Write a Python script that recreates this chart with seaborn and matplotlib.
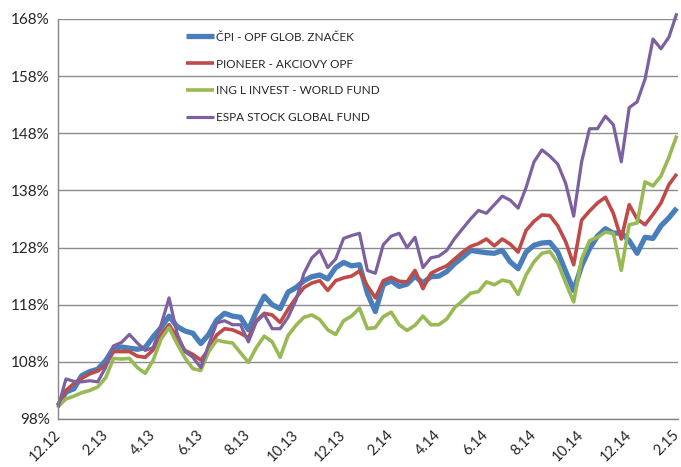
import numpy as np
import pandas as pd
import matplotlib
matplotlib.use("Agg")
import matplotlib.pyplot as plt
import seaborn as sns
from matplotlib.ticker import PercentFormatter

# x positions in months after the 12.12 tick (one value every 1/3 month)
months = np.arange(79) / 3.0

tick_months = list(range(0, 27, 2))
tick_labels = ["12.12", "2.13", "4.13", "6.13", "8.13", "10.13", "12.13",
               "2.14", "4.14", "6.14", "8.14", "10.14", "12.14", "2.15"]

cpi = [100.3, 102.7, 103.3, 105.6, 106.3, 106.7, 108.2, 110.4, 110.6, 110.4,
       110.2, 110.5, 112.4, 114.0, 116.0, 114.2, 113.4, 113.0, 111.2, 112.8,
       115.3, 116.5, 116.0, 115.8, 113.6, 116.8, 119.5, 118.0, 117.3, 120.2,
       121.0, 122.2, 122.9, 123.2, 122.5, 124.5, 125.4, 124.8, 125.0, 120.0,
       116.8, 121.5, 122.2, 121.2, 121.6, 123.0, 121.8, 122.9, 123.0, 123.8,
       125.2, 126.3, 127.5, 127.3, 127.1, 127.0, 127.5, 125.5, 124.3, 127.2,
       128.4, 128.8, 128.9, 127.2, 123.8, 120.5, 124.8, 127.8, 130.0, 131.3,
       130.5, 130.6, 129.2, 127.0, 129.8, 129.6, 131.8, 133.2, 134.9]

pioneer = [100.4, 103.0, 104.2, 105.1, 105.9, 106.4, 107.4, 109.8, 109.8, 109.8,
           109.0, 108.8, 110.1, 112.8, 114.5, 112.2, 110.0, 109.3, 108.3, 110.2,
           112.7, 113.8, 113.6, 113.0, 112.2, 115.2, 116.5, 116.2, 114.9, 117.2,
           119.2, 121.0, 121.8, 122.2, 120.5, 122.2, 122.7, 123.0, 123.9, 121.3,
           119.2, 122.2, 122.8, 122.1, 122.0, 124.0, 120.8, 123.5, 124.2, 124.8,
           126.0, 127.2, 128.2, 128.7, 129.5, 128.3, 129.5, 128.6, 127.2, 131.0,
           132.6, 133.7, 133.6, 131.8, 129.0, 125.0, 132.8, 134.4, 135.8, 136.8,
           134.0, 129.5, 135.5, 133.0, 132.0, 133.8, 135.8, 139.0, 140.9]

ing = [100.2, 101.5, 102.0, 102.6, 103.0, 103.6, 105.2, 108.6, 108.5, 108.6,
       107.0, 106.0, 108.3, 112.0, 114.0, 111.2, 108.7, 106.8, 106.5, 109.8,
       111.8, 111.5, 111.3, 109.6, 107.9, 110.5, 112.5, 111.5, 108.8, 112.6,
       114.4, 115.8, 116.2, 115.4, 113.6, 112.8, 115.2, 116.0, 117.4, 113.8,
       114.0, 115.9, 116.7, 114.5, 113.5, 114.4, 116.0, 114.5, 114.5, 115.5,
       117.5, 118.7, 120.0, 120.3, 122.0, 121.5, 122.3, 122.0, 119.8, 123.2,
       125.5, 127.0, 127.3, 125.3, 121.8, 118.5, 126.0, 129.2, 129.8, 130.7,
       130.5, 124.0, 132.0, 132.3, 139.5, 138.8, 140.5, 143.8, 147.6]

espa = [100.0, 105.0, 104.6, 104.5, 104.7, 104.5, 107.0, 110.8, 111.4, 112.8,
        111.3, 110.0, 110.5, 114.5, 119.2, 113.0, 109.8, 108.8, 107.0, 111.0,
        114.8, 115.2, 114.5, 114.5, 111.5, 115.0, 116.3, 113.8, 113.8, 115.8,
        118.8, 123.5, 126.2, 127.5, 124.5, 126.0, 129.6, 130.1, 130.5, 124.0,
        123.5, 128.5, 130.0, 130.5, 128.0, 129.8, 124.5, 126.2, 126.5, 127.5,
        129.6, 131.3, 133.0, 134.5, 134.0, 135.5, 137.0, 136.3, 134.9, 138.5,
        143.0, 145.1, 144.0, 142.6, 139.2, 133.5, 143.0, 148.8, 148.8, 151.0,
        149.5, 143.0, 152.5, 153.5, 157.5, 164.5, 162.8, 164.8, 169.0]

names = ["ČPI - OPF GLOB. ZNAČEK", "PIONEER - AKCIOVY OPF",
         "ING L INVEST - WORLD FUND", "ESPA STOCK GLOBAL FUND"]
colors = ["#4A7EBB", "#BE4B48", "#98B954", "#7D60A0"]
widths = [3.8, 2.6, 2.6, 2.3]

sns.set_style("white")
plt.rcParams["font.family"] = ["Lato", "DejaVu Sans"]

fig = plt.figure(figsize=(6.81, 4.67), dpi=100)
ax = fig.add_axes([58 / 681, 48 / 467, 620 / 681, 400 / 467])

for name, vals, c, w in zip(names, [cpi, pioneer, ing, espa], colors, widths):
    sns.lineplot(x=months, y=vals, ax=ax, color=c, linewidth=w, label=name,
                 clip_on=False, solid_capstyle="butt")

ax.set_xlim(0, 26.05)
ax.set_ylim(98, 168)
ax.set_yticks(range(98, 169, 10))
ax.yaxis.set_major_formatter(PercentFormatter(decimals=0))
ax.set_xticks(tick_months)
ax.set_xticklabels(tick_labels, rotation=45, ha="right", va="center",
                   rotation_mode="anchor")
ax.tick_params(axis="both", labelsize=11, length=4, width=1, color="#868686",
               direction="out", pad=3)
ax.tick_params(axis="x", labelsize=10.5, pad=6)
ax.tick_params(axis="y", pad=2)
ax.yaxis.grid(True, color="#8C8C8C", linewidth=1)
ax.set_axisbelow(True)
for s in ["top", "right"]:
    ax.spines[s].set_visible(False)
for s in ["left", "bottom"]:
    ax.spines[s].set_color("#868686")
    ax.spines[s].set_linewidth(1)
ax.set_xlabel("")
ax.set_ylabel("")

leg = ax.legend(loc="upper left", bbox_to_anchor=(0.19, 0.995), frameon=False,
                fontsize=8.5, handlelength=2.3, handletextpad=0.2,
                labelspacing=1.35)

fig.savefig("out.png", dpi=100)
